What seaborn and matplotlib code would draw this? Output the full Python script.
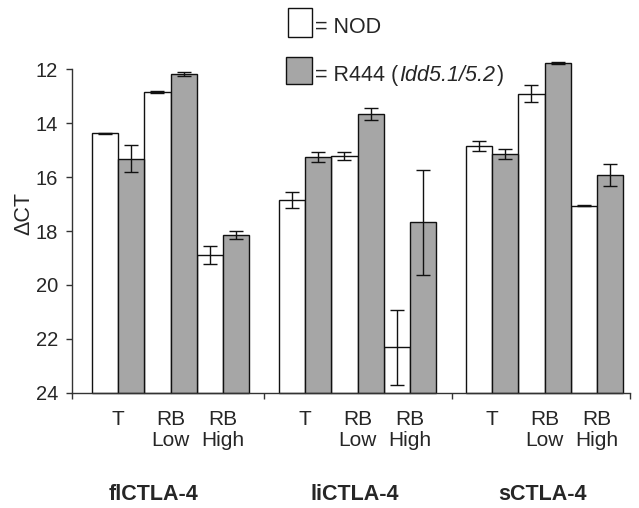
#-- Import crucial libraries. --#
import pandas as pd
import seaborn as sns
import matplotlib.pyplot as plt
from matplotlib.patches import Rectangle
from matplotlib import transforms

#-- Data (delta CT, lower is more expression). --#
groups = ["flCTLA-4", "liCTLA-4", "sCTLA-4"]
conditions = ["T", "RB\nLow", "RB\nHigh"]
strains = ["NOD", "R444"]
nod_means = [14.38, 12.86, 18.89, 16.85, 15.21, 22.31, 14.85, 12.91, 17.07]
nod_err = [0.02, 0.03, 0.32, 0.28, 0.15, 1.40, 0.20, 0.31, 0.02]
r444_means = [15.33, 12.19, 18.15, 15.27, 13.68, 17.68, 15.16, 11.77, 15.93]
r444_err = [0.50, 0.07, 0.15, 0.18, 0.22, 1.95, 0.18, 0.03, 0.41]
base = 24  # bars hang from the bottom of the inverted axis

#-- Layout: each group holds 3 bar pairs, groups spaced apart a bit. --#
group_step = 3.56
positions = [g * group_step + i for g in range(len(groups)) for i in range(len(conditions))]
boundaries = [-0.876, 2.77, 6.36, 9.75]
group_label_x = [0.67, 4.51, 8.08]

rows = []
for k, pos in enumerate(positions):
    rows.append({"pos": pos, "strain": "NOD", "dct": nod_means[k], "err": nod_err[k]})
    rows.append({"pos": pos, "strain": "R444", "dct": r444_means[k], "err": r444_err[k]})
df = pd.DataFrame(rows)

sns.set_theme(style="white")
plt.rcParams["font.family"] = ["Liberation Sans", "DejaVu Sans"]

fig = plt.figure(figsize=(6.39, 5.08), dpi=100)
ax = fig.add_axes([0.1127, 0.2264, 0.8736, 0.659])

sns.barplot(data=df, x="pos", y="dct", hue="strain", hue_order=strains,
            native_scale=True, width=1.0, gap=0,
            palette={"NOD": "white", "R444": "#a6a6a6"},
            edgecolor="#111111", linewidth=1.0, errorbar=None,
            legend=False, ax=ax)
# seaborn starts bars at 0; move their base to the axis floor (24)
for p in ax.patches:
    val = p.get_height()
    p.set_y(base)
    p.set_height(val - base)
    p.set_clip_on(False)

#-- Error bars (SE) on each bar. --#
offsets = {"NOD": -0.25, "R444": 0.25}
for s in strains:
    sub = df[df["strain"] == s]
    ax.errorbar(sub["pos"] + offsets[s], sub["dct"], yerr=sub["err"], fmt="none",
                ecolor="#111111", elinewidth=1.0, capsize=5, capthick=1.0,
                clip_on=False, zorder=5)

#-- Axes. --#
ax.set_ylim(base, 11.6)
ax.set_xlim(boundaries[0], boundaries[-1])
ax.set_yticks(range(12, 25, 2))
ax.tick_params(axis="y", direction="out", length=4, width=1, color="#333333",
               labelsize=14.5, pad=6, left=True)
ax.set_xticks(boundaries)
ax.set_xticklabels([])
ax.tick_params(axis="x", which="major", direction="out", length=4, width=1,
               color="#333333", bottom=True)
ax.set_xticks(positions, minor=True)
ax.set_xticklabels(conditions * len(groups), minor=True)
ax.tick_params(axis="x", which="minor", length=0, pad=12, labelsize=15)
for lbl in ax.get_xticklabels(minor=True):
    lbl.set_linespacing(1.15)
ax.set_xlabel("")
ax.set_ylabel("")
sns.despine(ax=ax)
ax.spines["left"].set_bounds(12, 24)
for side in ["left", "bottom"]:
    ax.spines[side].set_color("#333333")
    ax.spines[side].set_linewidth(1.0)
    ax.spines[side].set_zorder(6)

#-- Group labels and y label. --#
blend = transforms.blended_transform_factory(ax.transData, fig.transFigure)
for gx, name in zip(group_label_x, groups):
    fig.text(gx, 0.0256, name, transform=blend, ha="center", va="center",
             fontsize=15.5, fontweight="bold")
fig.text(0.038, 0.58, "ΔCT", rotation=90, ha="center", va="center", fontsize=15.5)

#-- Legend drawn by hand as boxes with text. --#
fig.patches.append(Rectangle((0.4507, 0.9272), 0.0376, 0.0571, transform=fig.transFigure,
                             facecolor="white", edgecolor="#111111", linewidth=1.0))
fig.patches.append(Rectangle((0.4476, 0.8346), 0.0407, 0.0531, transform=fig.transFigure,
                             facecolor="#a6a6a6", edgecolor="#111111", linewidth=1.0))
fig.text(0.493, 0.9344, "= NOD", ha="left", va="baseline", fontsize=15.5)
t1 = fig.text(0.493, 0.841, "= R444 (", ha="left", va="baseline", fontsize=15.5)
t2 = fig.text(0, 0, "Idd5.1/5.2", ha="left", va="baseline", fontsize=15.5, style="italic")
t3 = fig.text(0, 0, ")", ha="left", va="baseline", fontsize=15.5)
fig.canvas.draw()
r = fig.canvas.get_renderer()
inv = fig.transFigure.inverted()
x1 = inv.transform((t1.get_window_extent(r).x1, 0))[0]
t2.set_position((x1 + 0.002, 0.841))
x2 = inv.transform((t2.get_window_extent(r).x1, 0))[0]
t3.set_position((x2 + 0.002, 0.841))

fig.savefig("out.png", dpi=100)
